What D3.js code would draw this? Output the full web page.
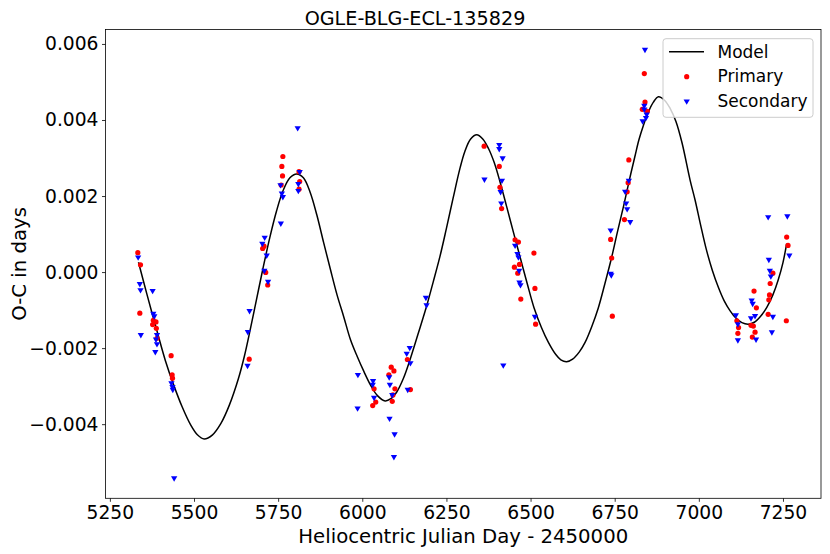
<!DOCTYPE html>
<html>
<head>
<meta charset="utf-8">
<script src="https://cdn.jsdelivr.net/npm/d3@7"></script>
<style>
  html, body { margin: 0; padding: 0; background: #fff; }
  svg text { font-family: "DejaVu Sans", sans-serif; fill: #000; }
</style>
</head>
<body>
<svg id="chart" width="830" height="554"></svg>
<script>
// ---------- data ----------
const titleText = "OGLE-BLG-ECL-135829";
const xLabel = "Heliocentric Julian Day - 2450000";
const yLabel = "O-C in days";
const xTicks = [5250, 5500, 5750, 6000, 6250, 6500, 6750, 7000, 7250];
const yTicks = [-0.004, -0.002, 0.000, 0.002, 0.004, 0.006];
const legendLabels = ["Model", "Primary", "Secondary"];

const modelX = [5335, 5360, 5390, 5415, 5440, 5465, 5490, 5510, 5530,
  5555, 5580, 5605, 5632, 5650, 5665, 5685, 5705, 5725, 5745, 5765, 5785, 5805,
  5825, 5845, 5865, 5885, 5905, 5925, 5945, 5965, 5985, 6005, 6025, 6045, 6068,
  6085, 6102, 6122, 6142, 6165, 6191, 6211, 6231, 6250, 6270, 6290, 6305, 6322, 6340,
  6358, 6375, 6392, 6410, 6429, 6449, 6469, 6490, 6510, 6532, 6553, 6575, 6590, 6607,
  6625, 6645, 6662, 6682, 6701, 6721, 6741, 6758, 6776, 6793, 6810, 6822, 6835, 6850, 6865, 6880,
  6898, 6915, 6932, 6950, 6974, 6989, 7005, 7023, 7040, 7058, 7075, 7093, 7110, 7128, 7147,
  7165, 7183, 7202, 7220, 7236, 7250, 7261];
const modelY = [0.00026, -0.00058, -0.00155, -0.00233, -0.00298, -0.00355, -0.00402, -0.00428, -0.00439,
  -0.00428, -0.00398, -0.00350, -0.00280, -0.00220, -0.00160, -0.00075, 0.00010, 0.00090, 0.00160, 0.00215, 0.00248, 0.00258,
  0.00248, 0.00210, 0.00150, 0.00078, 0.00008, -0.00060, -0.00118, -0.00178, -0.00222, -0.00262, -0.00298, -0.00325, -0.00339,
  -0.00333, -0.00316, -0.00280, -0.00230, -0.00165, -0.00090, -0.00025, 0.00042, 0.00115, 0.00195, 0.00272, 0.00318, 0.00350, 0.00361,
  0.00350, 0.00325, 0.00288, 0.00235, 0.00172, 0.00105, 0.00039, -0.00030, -0.00093, -0.00145, -0.00185, -0.00217, -0.00231, -0.00236,
  -0.00229, -0.00210, -0.00185, -0.00143, -0.00095, -0.00030, 0.00039, 0.00105, 0.00172, 0.00240, 0.00304, 0.00348, 0.00385, 0.00421, 0.00447, 0.00461,
  0.00452, 0.00430, 0.00396, 0.00340, 0.00242, 0.00189, 0.00125, 0.00057, 0.00005, -0.00040, -0.00075, -0.00102, -0.00121, -0.00133, -0.00137,
  -0.00132, -0.00117, -0.00093, -0.00060, -0.00020, 0.00025, 0.00075];

const primaryX = [5333, 5341, 5339, 5379, 5387, 5377, 5388, 5390, 5432, 5435, 5436, 5664, 5704, 5708, 5713, 5719,
  5764, 5761, 5763, 5759, 5812, 5814, 5812,
  6035, 6040, 6031, 6086, 6094, 6079, 6097, 6091, 6089, 6134, 6143,
  6362, 6407, 6409, 6414, 6454, 6464, 6510, 6467, 6452, 6462, 6513, 6471, 6515,
  6738, 6741, 6743, 6792, 6790, 6787, 6779, 6838, 6840, 6832, 6847,
  7261, 7265, 7220, 7212, 7210, 7208, 7164, 7171, 7206, 7260, 7113, 7118, 7116, 7155, 7162, 7167, 7159];
const primaryY = [0.00051, 0.00019, -0.00108, -0.00127, -0.00131, -0.00138, -0.00148, -0.00174, -0.00220, -0.00270, -0.00279, -0.00229, 0.00062, 0.00068, -0.00001, -0.00034,
  0.00304, 0.00278, 0.00253, 0.00229, 0.00264, 0.00238, 0.00218,
  -0.00307, -0.00342, -0.00351, -0.00250, -0.00260, -0.00270, -0.00307, -0.00323, -0.00340, -0.00230, -0.00309,
  0.00331, 0.00278, 0.00223, 0.00167, 0.00085, 0.00079, 0.00050, 0.00020, 0.00013, -0.00003, -0.00043, -0.00071, -0.00137,
  0.00086, 0.00037, -0.00116, 0.00295, 0.00235, 0.00211, 0.00138, 0.00522, 0.00447, 0.00428, 0.00423,
  0.00092, 0.00070, -0.00003, -0.00030, -0.00060, -0.00073, -0.00050, -0.00094, -0.00111, -0.00128, -0.00128, -0.00146, -0.00161, -0.00140, -0.00142, -0.00158, -0.00171];

const secondaryX = [5334, 5339, 5341, 5377, 5342, 5379, 5382, 5390, 5387, 5390, 5385, 5433, 5436, 5437, 5441, 5660, 5665, 5659, 5710, 5703, 5716, 5709, 5720,
  5808, 5814, 5757, 5761, 5764, 5810, 5810, 5758,
  5987, 5986, 6032, 6031, 6035, 6080, 6082, 6081, 6096, 6094, 6089, 6132, 6141, 6143, 6135, 6189, 6191,
  6419, 6363, 6407, 6407, 6417, 6415, 6411, 6413, 6454, 6461, 6464, 6466, 6467, 6470, 6513,
  6738, 6738, 6740, 6792, 6781, 6784, 6787, 6796, 6840, 6838, 6838, 6845, 6843, 6833,
  7206, 7263, 7269, 7208, 7211, 7214, 7157, 7160, 7110, 7116, 7155, 7167, 7220, 7217, 7116, 7170];
const secondaryY = [0.00039, -0.00031, -0.00047, -0.00049, -0.00165, -0.00109, -0.00116, -0.00165, -0.00177, -0.00189, -0.00210, -0.00292, -0.00302, -0.00309, -0.00542, -0.00157, -0.00102, -0.00246, 0.00091, 0.00075, 0.00044, 0.00004, -0.00025,
  0.00379, 0.00264, 0.00229, 0.00207, 0.00198, 0.00232, 0.00214, 0.00128,
  -0.00270, -0.00358, -0.00286, -0.00296, -0.00330, -0.00276, -0.00296, -0.00385, -0.00426, -0.00486, -0.00323, -0.00214, -0.00199, -0.00239, -0.00309, -0.00067, -0.00087,
  -0.00245, 0.00244, 0.00335, 0.00324, 0.00300, 0.00241, 0.00211, 0.00181, 0.00070, 0.00048, 0.00039, 0.00004, -0.00027, -0.00034, -0.00117,
  0.00110, -0.00004, -0.00008, 0.00241, 0.00212, 0.00181, 0.00166, 0.00132, 0.00585, 0.00438, 0.00428, 0.00415, 0.00406, 0.00397,
  0.00145, 0.00147, 0.00044, 0.00033, 0.00004, -0.00011, -0.00074, -0.00083, -0.00113, -0.00137, -0.00121, -0.00115, -0.00117, -0.00158, -0.00179, -0.00177];

// ---------- layout ----------
const W = 830, H = 554;
const margin = {left: 105.5, right: 9, top: 29.5, bottom: 55.7};
const iw = W - margin.left - margin.right;
const ih = H - margin.top - margin.bottom;

const svg = d3.select("#chart");
const g = svg.append("g").attr("transform", `translate(${margin.left},${margin.top})`);

const x = d3.scaleLinear().domain([5237, 7363]).range([0, iw]);
const y = d3.scaleLinear().domain([-0.00595, 0.00638]).range([ih, 0]);

// axes
const fmtY = v => (v < 0 ? "\u2212" : "") + Math.abs(v).toFixed(3);
const xAxis = g.append("g").attr("transform", `translate(0,${ih})`)
  .call(d3.axisBottom(x).tickValues(xTicks).tickFormat(d3.format("d")).tickSize(3.5).tickPadding(3.5));
const yAxis = g.append("g")
  .call(d3.axisLeft(y).tickValues(yTicks).tickFormat(fmtY).tickSize(3.5).tickPadding(3.5));
[xAxis, yAxis].forEach(a => {
  a.select(".domain").remove();
  a.selectAll("line").attr("stroke", "#000").attr("stroke-width", 0.8);
  a.selectAll("text").attr("font-size", 18.7).attr("font-family", "DejaVu Sans").attr("fill", "#000");
});

// frame
g.append("rect").attr("x", 0).attr("y", 0).attr("width", iw).attr("height", ih)
  .attr("fill", "none").attr("stroke", "#000").attr("stroke-width", 0.8);

// model line
const modelData = modelX.map((d, i) => [d, modelY[i]]);
g.append("path").datum(modelData)
  .attr("fill", "none").attr("stroke", "#000").attr("stroke-width", 1.5)
  .attr("d", d3.line().x(d => x(d[0])).y(d => y(d[1])).curve(d3.curveCatmullRom.alpha(0.5)));

// primary
const primData = primaryX.map((d, i) => [d, primaryY[i]]);
g.append("g").selectAll("circle").data(primData).join("circle")
  .attr("cx", d => x(d[0])).attr("cy", d => y(d[1])).attr("r", 2.6).attr("fill", "#ff0000");

// secondary (down triangles)
const tri = d3.symbol().type(d3.symbolTriangle).size(17);
const secData = secondaryX.map((d, i) => [d, secondaryY[i]]);
g.append("g").selectAll("path").data(secData).join("path")
  .attr("d", tri)
  .attr("transform", d => `translate(${x(d[0])},${y(d[1])}) rotate(180)`)
  .attr("fill", "#0000ff");

// title and labels
svg.append("text").attr("x", W / 2).attr("y", 25).attr("text-anchor", "middle")
  .attr("font-size", 19.2).text(titleText);
svg.append("text").attr("x", margin.left + iw / 2).attr("y", 543).attr("text-anchor", "middle")
  .attr("font-size", 19.7).text(xLabel);
svg.append("text").attr("transform", `translate(26,${margin.top + ih / 2}) rotate(-90)`)
  .attr("text-anchor", "middle").attr("font-size", 19.7).text(yLabel);

// legend
const lg = svg.append("g").attr("transform", "translate(663,38.7)");
lg.append("rect").attr("width", 150).attr("height", 78.6).attr("rx", 3)
  .attr("fill", "#fff").attr("fill-opacity", 0.8).attr("stroke", "#cccccc").attr("stroke-width", 1);
lg.append("line").attr("x1", 6).attr("x2", 41).attr("y1", 13).attr("y2", 13)
  .attr("stroke", "#000").attr("stroke-width", 1.5);
lg.append("circle").attr("cx", 23.7).attr("cy", 38).attr("r", 2.6).attr("fill", "#ff0000");
lg.append("path").attr("d", tri).attr("transform", "translate(23.7,62.5) rotate(180)").attr("fill", "#0000ff");
legendLabels.forEach((t, i) => {
  lg.append("text").attr("x", 54.5).attr("y", 13 + i * 24.7).attr("dy", "0.35em")
    .attr("font-size", 17).text(t);
});
</script>
</body>
</html>
